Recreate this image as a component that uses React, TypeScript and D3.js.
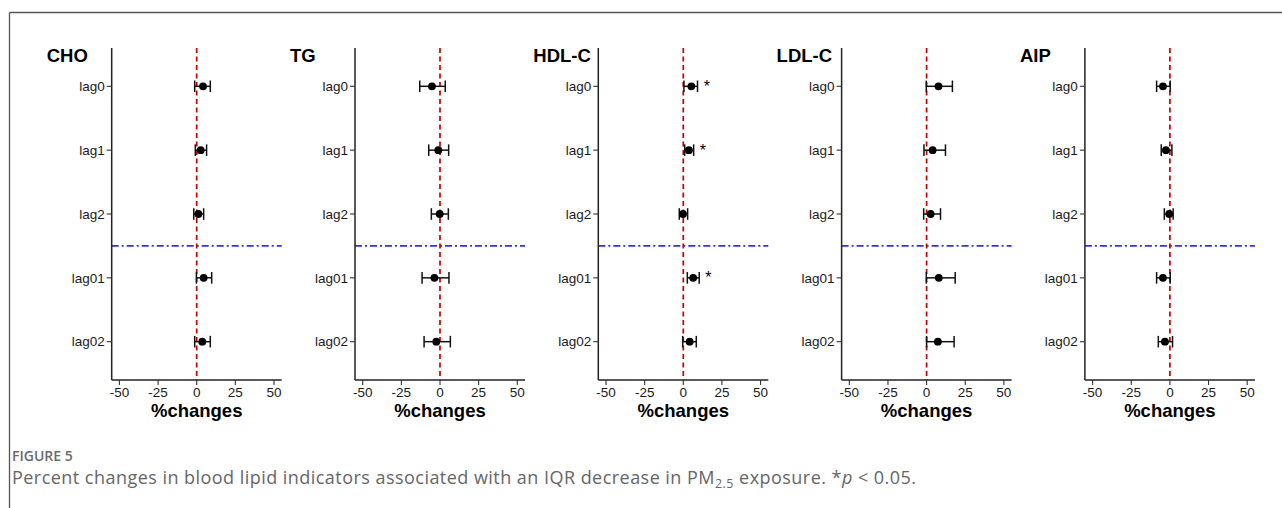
import React from "react";
import * as d3 from "d3";

const lags = ["lag0", "lag1", "lag2", "lag01", "lag02"];
const indicators = ["CHO", "TG", "HDL-C", "LDL-C", "AIP"];
const xTicks = [-50, -25, 0, 25, 50];

// estimates (percent change) per indicator, in lag order
const est: number[][] = [
  [4.1, 2.6, 1.1, 4.5, 3.6],
  [-5.2, -1.1, -0.2, -3.6, -2.4],
  [5.2, 3.6, -0.2, 6.4, 4.1],
  [7.7, 3.9, 2.6, 7.9, 7.3],
  [-4.5, -2.6, -0.4, -4.5, -3.2],
];
const lower: number[][] = [
  [-1.3, -0.9, -1.9, -0.2, -1.3],
  [-13.1, -7.3, -5.6, -11.6, -10.3],
  [0.4, 0.9, -2.6, 2.6, -0.4],
  [-0.2, -1.7, -1.9, -0.2, 0.0],
  [-8.6, -5.6, -3.6, -8.6, -7.5],
];
const upper: number[][] = [
  [8.8, 6.4, 4.5, 9.7, 8.8],
  [3.4, 5.6, 5.4, 5.8, 6.7],
  [9.2, 6.7, 2.8, 10.3, 8.4],
  [16.7, 12.2, 9.0, 18.5, 17.8],
  [0.2, 1.3, 2.1, 0.2, 1.7],
];
const significant: boolean[][] = [
  [false, false, false, false, false],
  [false, false, false, false, false],
  [true, true, false, true, false],
  [false, false, false, false, false],
  [false, false, false, false, false],
];

const W = 1282;
const H = 508;
const FONT = "'Liberation Sans', Arial, Helvetica, sans-serif";

const firstAxisX = 111.7;
const panelStep = 243.3;
const plotW = 170;
const plotTop = 48;
const plotBottom = 380;

function Panel({ idx }: { idx: number }) {
  const x0 = firstAxisX + idx * panelStep;
  const x = d3.scaleLinear().domain([-55, 55]).range([x0, x0 + plotW]);
  const y = d3.scalePoint<string>().domain(lags).range([plotTop, plotBottom]).padding(0.6);
  const sepY = (y("lag2")! + y("lag01")!) / 2;
  const capH = 5.8;
  return (
    <g>
      <text x={x0 - 65} y={62} fontFamily={FONT} fontWeight="bold" fontSize={18.5} fill="#000">
        {indicators[idx]}
      </text>
      {/* separator */}
      <line x1={x0} x2={x0 + plotW} y1={sepY} y2={sepY} stroke="#2f2fff" strokeWidth={1.6} strokeDasharray="7,3,2,3" />
      {/* zero line */}
      <line x1={x(0)} x2={x(0)} y1={plotTop} y2={plotBottom} stroke="#c40000" strokeWidth={1.7} strokeDasharray="5,3.5" />
      {/* error bars */}
      {lags.map((l, i) => {
        const yy = y(l)!;
        return (
          <g key={l}>
            <line x1={x(lower[idx][i])} x2={x(upper[idx][i])} y1={yy} y2={yy} stroke="#111" strokeWidth={1.5} />
            <line x1={x(lower[idx][i])} x2={x(lower[idx][i])} y1={yy - capH} y2={yy + capH} stroke="#111" strokeWidth={1.5} />
            <line x1={x(upper[idx][i])} x2={x(upper[idx][i])} y1={yy - capH} y2={yy + capH} stroke="#111" strokeWidth={1.5} />
            <circle cx={x(est[idx][i])} cy={yy} r={3.9} fill="#000" />
            {significant[idx][i] && (
              <text x={x(upper[idx][i] + 6)} y={yy + 5.5} fontFamily={FONT} fontSize={16} textAnchor="middle" fill="#000">
                *
              </text>
            )}
          </g>
        );
      })}
      {/* y axis */}
      <line x1={x0} x2={x0} y1={plotTop} y2={plotBottom} stroke="#222" strokeWidth={1.5} />
      {lags.map((l) => (
        <g key={l}>
          <line x1={x0 - 5} x2={x0} y1={y(l)!} y2={y(l)!} stroke="#333" strokeWidth={1.1} />
          <text x={x0 - 7} y={y(l)! + 4.8} textAnchor="end" fontFamily={FONT} fontSize={13.5} fill="#1a1a1a">
            {l}
          </text>
        </g>
      ))}
      {/* x axis */}
      <line x1={x0} x2={x0 + plotW} y1={plotBottom} y2={plotBottom} stroke="#222" strokeWidth={1.5} />
      {xTicks.map((t) => (
        <g key={t}>
          <line x1={x(t)} x2={x(t)} y1={plotBottom} y2={plotBottom + 5} stroke="#333" strokeWidth={1.1} />
          <text x={x(t)} y={397} textAnchor="middle" fontFamily={FONT} fontSize={13.5} fill="#1a1a1a">
            {t}
          </text>
        </g>
      ))}
      <text x={x(0)} y={417} textAnchor="middle" fontFamily={FONT} fontWeight="bold" fontSize={18.5} fill="#000">
        %changes
      </text>
    </g>
  );
}

export default function App() {
  return (
    <svg width={W} height={H} style={{ position: "absolute", left: 0, top: 0, background: "#fff" }}>
      <rect x={0} y={0} width={W} height={H} fill="#fff" />
      <line x1={9.5} x2={W} y1={12.5} y2={12.5} stroke="#555" strokeWidth={1.3} />
      <line x1={9.5} x2={9.5} y1={12.5} y2={H} stroke="#555" strokeWidth={1.3} />
      {indicators.map((_, i) => (
        <Panel key={i} idx={i} />
      ))}
      <text x={12} y={461} fontFamily="'Open Sans', sans-serif" fontWeight={600} fontSize={14} fill="#6a6a6a">
        FIGURE 5
      </text>
      <text
        x={12}
        y={484}
        fontFamily="'Open Sans', sans-serif"
        fontSize={18}
        fill="#666"
        textLength={904}
        lengthAdjust="spacing"
      >
        Percent changes in blood lipid indicators associated with an IQR decrease in PM
        <tspan fontSize={12.5} dy={4}>2.5</tspan>
        <tspan dy={-4}> exposure. *</tspan>
        <tspan fontStyle="italic">p</tspan>
        {" < 0.05."}
      </text>
    </svg>
  );
}
